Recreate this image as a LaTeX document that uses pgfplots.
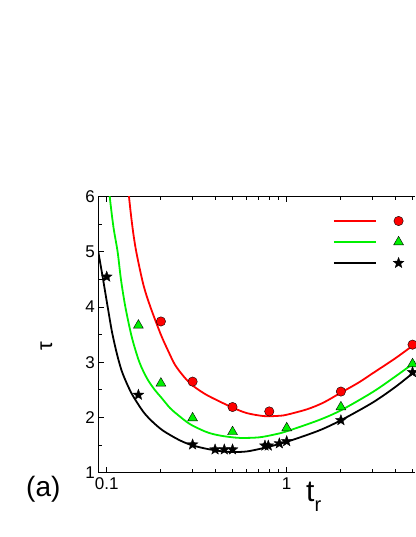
\documentclass[border=0pt]{standalone}
\usepackage{fontspec}
\setmainfont{Liberation Sans}
\usepackage{pgfplots}
\pgfplotsset{compat=1.18}

% filled five-point star
\pgfdeclareplotmark{fstar}{%
  \pgfpathmoveto{\pgfpointpolar{90}{\pgfplotmarksize}}%
  \pgfpathlineto{\pgfpointpolar{126}{0.42\pgfplotmarksize}}%
  \pgfpathlineto{\pgfpointpolar{162}{\pgfplotmarksize}}%
  \pgfpathlineto{\pgfpointpolar{198}{0.42\pgfplotmarksize}}%
  \pgfpathlineto{\pgfpointpolar{234}{\pgfplotmarksize}}%
  \pgfpathlineto{\pgfpointpolar{270}{0.42\pgfplotmarksize}}%
  \pgfpathlineto{\pgfpointpolar{306}{\pgfplotmarksize}}%
  \pgfpathlineto{\pgfpointpolar{342}{0.42\pgfplotmarksize}}%
  \pgfpathlineto{\pgfpointpolar{18}{\pgfplotmarksize}}%
  \pgfpathlineto{\pgfpointpolar{54}{0.42\pgfplotmarksize}}%
  \pgfpathclose\pgfusepathqfillstroke}

\definecolor{cred}{RGB}{255,0,0}
\definecolor{cgreen}{RGB}{0,240,0}

\begin{document}
\begin{tikzpicture}[x=1pt,y=1pt]
\useasboundingbox (0,0) rectangle (415,537);
\begin{axis}[
    at={(98.3pt,64.3pt)}, anchor=south west,
    scale only axis, width=316.7pt, height=276pt,
    xmode=log, xmin=0.0898, xmax=5.16,
    ymin=1, ymax=6,
    axis x line*=box, axis y line*=left,
    axis line style={-, line width=0.9pt},
    tick align=inside,
    major tick length=5.5pt, minor tick length=3.5pt,
    every tick/.style={black, line width=0.9pt},
    xtick={0.1,1}, xticklabels={0.1,1},
    minor xtick={0.2,0.3,0.4,0.5,0.6,0.7,0.8,0.9,2,3,4,5},
    ytick={1,2,3,4,5,6},
    minor ytick={1.5,2.5,3.5,4.5,5.5},
    xtick pos=both, xticklabel pos=lower, ytick pos=left,
    /pgf/number format/assume math mode=true,
    tick label style={font=\fontsize{17}{18}\selectfont},
    xticklabel style={yshift=-1.5pt},
    legend style={draw=none, fill=none, inner sep=0pt, outer sep=0pt,
        at={(0.741,0.950)}, anchor=north west, row sep=0pt,
        nodes={inner sep=0pt, minimum height=21pt}},
    legend cell align=left,
]
% legend: line, then marker further right
\addlegendimage{legend image code/.code={
    \draw[cred, line width=1.8pt] (0pt,0pt) -- (42pt,0pt);
    \draw[black, fill=cred, line width=0.4pt] plot[mark=*, mark size=4.7pt] coordinates {(64.7pt,0pt)};}}
\addlegendentry{}
\addlegendimage{legend image code/.code={
    \draw[cgreen, line width=1.8pt] (0pt,0pt) -- (42pt,0pt);
    \draw[black, fill=cgreen, line width=0.4pt] plot[mark=triangle*, mark size=5.7pt] coordinates {(64.7pt,0pt)};}}
\addlegendentry{}
\addlegendimage{legend image code/.code={
    \draw[black, line width=1.8pt] (0pt,0pt) -- (42pt,0pt);
    \draw[black, fill=black, line width=0.3pt] plot[mark=fstar, mark size=5.7pt] coordinates {(64.7pt,0pt)};}}
\addlegendentry{}

% fitted curves
\addplot[cred, line width=1.8pt, smooth, forget plot] coordinates {
    (0.130,6.4) (0.133,6.0) (0.139,5.45) (0.146,5.0) (0.16,4.4) (0.175,4.0)
    (0.2,3.5) (0.22,3.2) (0.24,2.95) (0.27,2.73) (0.3,2.58) (0.35,2.43)
    (0.4,2.33) (0.5,2.18) (0.6,2.08) (0.75,2.025) (0.9,2.03) (1.0,2.05)
    (1.3,2.15) (1.6,2.27) (2.0,2.45) (2.5,2.63) (3.0,2.8) (4.0,3.07)
    (5.0,3.3) (5.2,3.35)
};
\addplot[cgreen, line width=1.8pt, smooth, forget plot] coordinates {
    (0.102,6.4) (0.104,6.0) (0.109,5.45) (0.115,5.0) (0.12,4.5) (0.127,4.0)
    (0.138,3.45) (0.152,3.0) (0.168,2.7) (0.185,2.5) (0.2,2.37) (0.225,2.17)
    (0.25,2.04) (0.29,1.88) (0.35,1.75) (0.39,1.7) (0.45,1.66) (0.55,1.63)
    (0.7,1.64) (0.85,1.69) (1.0,1.75) (1.5,1.95) (2.0,2.13) (3.0,2.46)
    (4.0,2.74) (5.0,2.97) (5.2,3.02)
};
\addplot[black, line width=1.8pt, smooth, forget plot] coordinates {
    (0.0898,5.0) (0.0955,4.5) (0.1013,4.0) (0.107,3.55) (0.114,3.15)
    (0.121,2.85) (0.13,2.6) (0.14,2.39) (0.16,2.1) (0.18,1.92) (0.206,1.76)
    (0.25,1.6) (0.29,1.51) (0.35,1.44) (0.43,1.39) (0.5,1.375) (0.6,1.385)
    (0.75,1.45) (1.0,1.56) (1.5,1.76) (2.0,1.95) (3.0,2.27) (4.0,2.55)
    (5.0,2.8) (5.2,2.85)
};

% data points
\addplot[only marks, mark=*, mark size=4.7pt, draw=black, fill=cred,
    mark options={line width=0.4pt}, forget plot] coordinates {
    (0.2,3.74) (0.3,2.65) (0.5,2.19) (0.8,2.11) (2.0,2.47) (5.0,3.32)
};
\addplot[only marks, mark=triangle*, mark size=5.7pt, draw=black, fill=cgreen,
    mark options={line width=0.4pt}, forget plot] coordinates {
    (0.15,3.67) (0.2,2.62) (0.3,1.99) (0.5,1.74) (1.0,1.81) (2.0,2.19) (5.0,2.97)
};
\addplot[only marks, mark=fstar, mark size=5.7pt, draw=black, fill=black,
    mark options={line width=0.3pt}, forget plot] coordinates {
    (0.1,4.55) (0.15,2.41) (0.3,1.51) (0.4,1.42) (0.45,1.42) (0.5,1.42)
    (0.757,1.49) (0.79,1.49) (0.91,1.53) (1.0,1.57) (2.0,1.95) (5.0,2.82)
};
\end{axis}

% axis titles and panel label
\node[rotate=90, inner sep=0pt] at (46.5,191) {\fontsize{22}{22}\selectfont τ};
\node[anchor=base west, inner sep=0pt] at (306,35)
    {\fontsize{30}{30}\selectfont t\raisebox{-10pt}{\fontsize{20}{20}\selectfont r}};
\node[anchor=base west, inner sep=0pt] at (26,40) {\fontsize{28}{28}\selectfont (a)};
\end{tikzpicture}
\end{document}
